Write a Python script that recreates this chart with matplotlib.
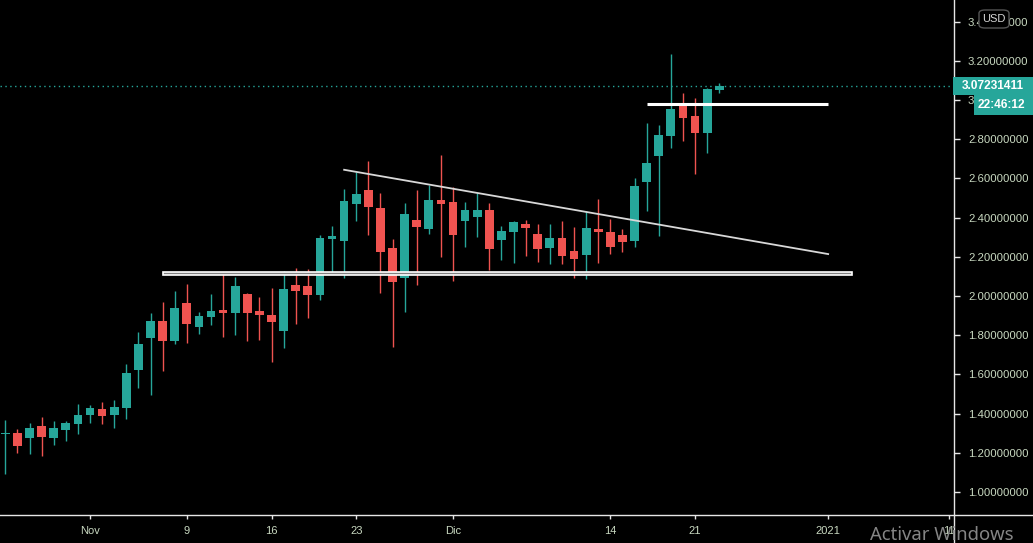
import matplotlib
matplotlib.use('Agg')
import matplotlib.pyplot as plt
import matplotlib.dates as mdates
import matplotlib.transforms as mtrans
from matplotlib.patches import Rectangle, FancyBboxPatch
from matplotlib.lines import Line2D
import pandas as pd
import numpy as np

# ---------------- data (daily candles) ----------------
start_date = '2020-10-25'
opens = [1.298, 1.301, 1.276, 1.337, 1.276, 1.316, 1.347, 1.393, 1.423, 1.393,
         1.429, 1.622, 1.786, 1.872, 1.770, 1.964, 1.842, 1.893, 1.929, 1.913,
         2.010, 1.923, 1.903, 1.821, 2.056, 2.051, 2.005, 2.291, 2.281, 2.469,
         2.541, 2.449, 2.245, 2.092, 2.388, 2.342, 2.490, 2.480, 2.383, 2.403,
         2.439, 2.286, 2.327, 2.367, 2.316, 2.245, 2.296, 2.230, 2.209, 2.342,
         2.327, 2.311, 2.281, 2.582, 2.714, 2.816, 2.980, 2.918, 2.832, 3.051]
highs = [1.367, 1.321, 1.352, 1.383, 1.362, 1.362, 1.449, 1.444, 1.459, 1.469,
         1.653, 1.816, 1.913, 1.969, 2.026, 2.061, 1.918, 2.010, 2.117, 2.097,
         2.015, 1.995, 2.041, 2.128, 2.143, 2.138, 2.311, 2.357, 2.546, 2.633,
         2.689, 2.526, 2.291, 2.474, 2.541, 2.566, 2.719, 2.556, 2.480, 2.526,
         2.474, 2.357, 2.383, 2.388, 2.367, 2.367, 2.383, 2.352, 2.434, 2.495,
         2.393, 2.342, 2.602, 2.883, 2.872, 3.235, 3.036, 3.010, 3.061, 3.087]
lows = [1.092, 1.199, 1.194, 1.184, 1.240, 1.260, 1.296, 1.352, 1.347, 1.327,
        1.372, 1.531, 1.495, 1.617, 1.755, 1.760, 1.806, 1.852, 1.791, 1.801,
        1.770, 1.776, 1.663, 1.735, 1.857, 1.888, 1.980, 2.122, 2.092, 2.383,
        2.311, 2.015, 1.740, 1.918, 2.056, 2.316, 2.199, 2.077, 2.250, 2.301,
        2.133, 2.184, 2.168, 2.204, 2.173, 2.163, 2.163, 2.092, 2.087, 2.168,
        2.214, 2.224, 2.250, 2.434, 2.306, 2.755, 2.791, 2.622, 2.730, 3.036]
closes = [1.300, 1.235, 1.327, 1.281, 1.327, 1.352, 1.393, 1.429, 1.388, 1.434,
          1.607, 1.755, 1.872, 1.770, 1.939, 1.857, 1.898, 1.923, 1.913, 2.051,
          1.913, 1.903, 1.867, 2.036, 2.026, 2.005, 2.296, 2.306, 2.485, 2.520,
          2.454, 2.224, 2.071, 2.418, 2.352, 2.490, 2.469, 2.311, 2.439, 2.439,
          2.240, 2.332, 2.378, 2.347, 2.240, 2.296, 2.204, 2.189, 2.347, 2.327,
          2.250, 2.276, 2.561, 2.679, 2.821, 2.954, 2.908, 2.832, 3.055, 3.07231411]

# drawings
zone_start, zone_end = '2020-11-07', '2021-01-03'
zone_low, zone_high = 2.105, 2.122
trend_dates = ['2020-11-22', '2021-01-01']
trend_prices = [2.644, 2.214]
resist_dates = ['2020-12-17', '2021-01-01']
resist_price = 2.981

y_ticks = [1.0, 1.2, 1.4, 1.6, 1.8, 2.0, 2.2, 2.4, 2.6, 2.8, 3.0, 3.2, 3.4]
x_tick_dates = ['2020-11-01', '2020-11-09', '2020-11-16', '2020-11-23', '2020-12-01',
                '2020-12-14', '2020-12-21', '2021-01-01', '2021-01-11']
x_tick_labels = ['Nov', '9', '16', '23', 'Dic', '14', '21', '2021', '11']
last_price_label = '3.07231411'
timer_label = '22:46:12'

# ---------------- style ----------------
GREEN = '#26a69a'
RED = '#ef5350'
TXT = '#c8d8c0'
AXC = '#e6e6e6'
FONT = ['Liberation Sans', 'DejaVu Sans']

W, H = 1033, 543
AX_RIGHT, AX_BOTTOM = 954, 515
fig = plt.figure(figsize=(W / 100, H / 100), dpi=100, facecolor='black')
ax = fig.add_axes([0, (H - AX_BOTTOM) / H, AX_RIGHT / W, AX_BOTTOM / H])
ax.set_facecolor('black')

dates = pd.date_range(start_date, periods=len(opens), freq='D')
xd = mdates.date2num(dates)
o = np.array(opens); h = np.array(highs); l = np.array(lows); c = np.array(closes)
up = c >= o
cols = np.where(up, GREEN, RED)

ax.vlines(xd, l, h, colors=cols, linewidth=1.0, zorder=3)
bottom = np.minimum(o, c)
height = np.maximum(np.abs(c - o), 0.005)
ax.bar(xd, height, bottom=bottom, width=0.72, color=cols, linewidth=0, zorder=4)

d2n = lambda s: mdates.date2num(pd.Timestamp(s))

# support zone rectangle
ax.add_patch(Rectangle((d2n(zone_start), zone_low), d2n(zone_end) - d2n(zone_start),
                       zone_high - zone_low, facecolor='#808080', edgecolor='white',
                       linewidth=1.2, zorder=5))
# descending trend line
ax.plot([d2n(s) for s in trend_dates], trend_prices, color='#d8d8d8', linewidth=1.3, zorder=5)
# resistance line
ax.plot([d2n(s) for s in resist_dates], [resist_price, resist_price], color='white',
        linewidth=2.2, zorder=5, solid_capstyle='butt')
# last price dotted line
ax.axhline(closes[-1], color=GREEN, linestyle=(0, (1, 2.5)), linewidth=1.0, zorder=2)

base = d2n('2020-11-01')
ax.set_xlim(base - 7.44, base + 71.4)
ax.set_ylim(0.883, 3.510)

for s in ['top', 'left', 'bottom', 'right']:
    ax.spines[s].set_visible(False)

ax.yaxis.tick_right()
ax.set_yticks(y_ticks)
ax.set_yticklabels(['%.8f' % v for v in y_ticks])
ax.tick_params(axis='y', direction='out', length=4, width=1, color=AXC, pad=6,
               labelcolor=TXT, labelsize=8.2)
ax.set_xticks([d2n(s) for s in x_tick_dates])
ax.set_xticklabels(x_tick_labels)
ax.tick_params(axis='x', direction='out', length=3, width=1, color=AXC, pad=5,
               labelcolor=TXT, labelsize=8)
for lab in ax.get_xticklabels() + ax.get_yticklabels():
    lab.set_family(FONT)

# axis frame lines at figure level
fig.add_artist(Line2D([0, 1], [(H - AX_BOTTOM) / H] * 2, color=AXC, linewidth=1, zorder=10))
fig.add_artist(Line2D([AX_RIGHT / W] * 2, [0, 1], color=AXC, linewidth=1, zorder=10))

# price label + timer boxes (display pixel coords, y from last price)
ident = mtrans.IdentityTransform()
y_last = ax.transData.transform((base, closes[-1]))[1]
fig.add_artist(Rectangle((953, y_last - 9), 80, 18, facecolor=GREEN, edgecolor='none',
                         transform=ident, zorder=20))
fig.text(993 / W, y_last / H, last_price_label, ha='center', va='center', color='white',
         fontsize=8.6, family=FONT, fontweight='semibold', zorder=21)
fig.add_artist(Rectangle((974, y_last - 29.5), 59, 20.5, facecolor=GREEN, edgecolor='none',
                         transform=ident, zorder=20))
fig.text(1001 / W, (y_last - 19.5) / H, timer_label, ha='center', va='center', color='white',
         fontsize=8.6, family=FONT, fontweight='semibold', zorder=21)

# USD box
fig.add_artist(FancyBboxPatch((979 / W, (H - 28) / H), 30 / W, 18 / H,
                              boxstyle='round,pad=0,rounding_size=0.006',
                              facecolor='black', edgecolor='#555555', linewidth=1,
                              transform=fig.transFigure, zorder=20))
fig.text(994 / W, (H - 18.5) / H, 'USD', ha='center', va='center', color='#d8d8d8',
         fontsize=8, family=FONT, zorder=21)

# Windows watermark
fig.text(870 / W, (H - 540) / H, 'Activar Windows', ha='left', va='baseline',
         color='#858585', fontsize=13.3, family=['Noto Sans', 'DejaVu Sans'], zorder=30)

fig.savefig('out.png', dpi=100, facecolor='black')
